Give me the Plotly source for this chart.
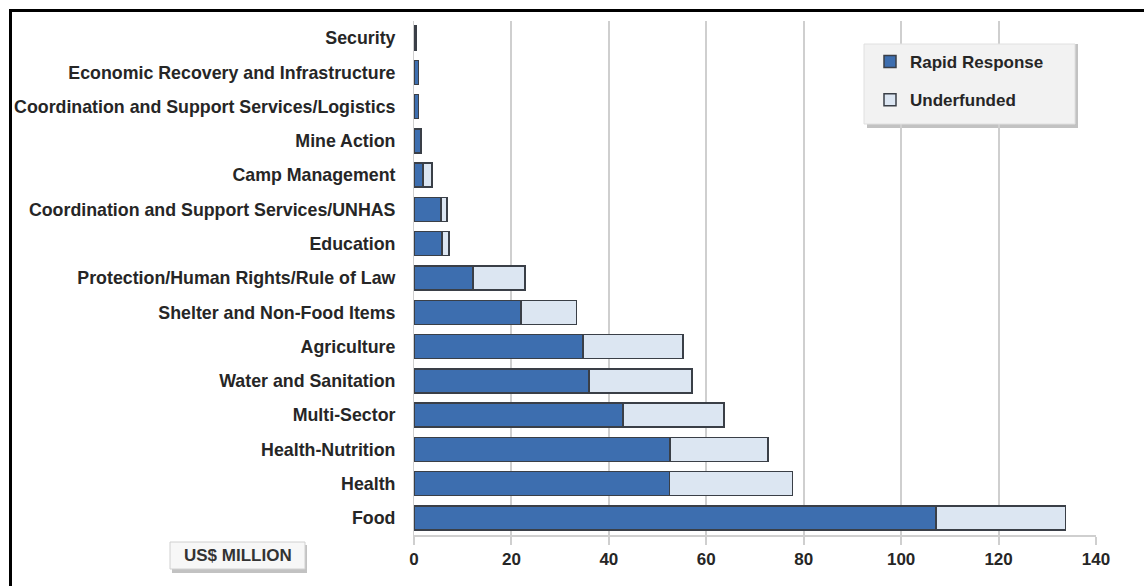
import plotly.graph_objects as go

categories = [
    "Food", "Health", "Health-Nutrition", "Multi-Sector", "Water and Sanitation",
    "Agriculture", "Shelter and Non-Food Items", "Protection/Human Rights/Rule of Law",
    "Education", "Coordination and Support Services/UNHAS", "Camp Management",
    "Mine Action", "Coordination and Support Services/Logistics",
    "Economic Recovery and Infrastructure", "Security",
]
rapid_response = [107.2, 52.4, 52.6, 42.9, 35.9, 34.7, 22.0, 12.1, 5.7, 5.5, 1.8, 1.4, 0.9, 0.9, 0.4]
underfunded = [26.5, 25.3, 20.1, 20.7, 21.2, 20.5, 11.4, 10.7, 1.5, 1.3, 1.9, 0.0, 0.0, 0.0, 0.0]
x_ticks = [0, 20, 40, 60, 80, 100, 120, 140]

FONT = "Liberation Sans, Arial, sans-serif"
TXT = "#262626"

W, H = 1144, 586
L, R, T, B = 414, 48, 21, 51
pw, ph = W - L - R, H - T - B


def px(x):
    return (x - L) / pw


def py(y):
    return (H - B - y) / ph


fig = go.Figure()
fig.add_trace(go.Bar(
    y=categories, x=rapid_response, orientation="h", name="Rapid Response",
    marker=dict(color="#3d6eaf", line=dict(color="#3a3f47", width=1.5)),
    legendgroup="a",
))
fig.add_trace(go.Bar(
    y=categories, x=underfunded, orientation="h", name="Underfunded",
    marker=dict(color="#dce6f2", line=dict(color="#3a3f47", width=1.5)),
    legendgroup="b",
))

shapes = [
    # legend shadow + box
    dict(type="rect", xref="paper", yref="paper", x0=px(867), x1=px(1078), y0=py(44), y1=py(128),
         fillcolor="#9a9a9a", line=dict(width=0), layer="below", opacity=0.6),
    dict(type="rect", xref="paper", yref="paper", x0=px(864), x1=px(1075), y0=py(44), y1=py(124),
         fillcolor="#f2f2f2", line=dict(color="#e0e0e0", width=1), layer="above"),
    # unit box shadow + box
    dict(type="rect", xref="paper", yref="paper", x0=px(172), x1=px(307), y0=py(545), y1=py(573),
         fillcolor="#9a9a9a", line=dict(width=0), opacity=0.6),
    dict(type="rect", xref="paper", yref="paper", x0=px(170), x1=px(305), y0=py(542), y1=py(569),
         fillcolor="#f7f7f7", line=dict(color="#d0d0d0", width=1)),
    # outer frame (top and left edges only visible)
    dict(type="line", xref="paper", yref="paper", x0=px(9), x1=px(1144), y0=py(10.5), y1=py(10.5),
         line=dict(color="#000000", width=3)),
    dict(type="line", xref="paper", yref="paper", x0=px(10.5), x1=px(10.5), y0=py(9), y1=py(586),
         line=dict(color="#000000", width=3)),
]

fig.update_layout(
    width=W, height=H,
    margin=dict(l=L, r=R, t=T, b=B),
    barmode="stack", bargap=0.3,
    plot_bgcolor="white", paper_bgcolor="white",
    font=dict(family=FONT, color=TXT),
    showlegend=True,
    legend=dict(
        x=px(870), y=py(44), xanchor="left", yanchor="top",
        bgcolor="rgba(0,0,0,0)", borderwidth=0,
        font=dict(family=FONT, size=17, color=TXT, weight="bold"),
        traceorder="grouped", tracegroupgap=13, itemwidth=30,
    ),
    xaxis=dict(
        range=[0, 140], tickvals=x_ticks, ticktext=[str(v) for v in x_ticks],
        showgrid=True, gridcolor="#cfcfcf", gridwidth=2,
        showline=True, linecolor="#cfcfcf", linewidth=2,
        ticks="outside", ticklen=8, tickcolor="#cfcfcf", tickwidth=2,
        tickfont=dict(family=FONT, size=17, color=TXT, weight="bold"),
        zeroline=False, fixedrange=True,
    ),
    yaxis=dict(
        categoryorder="array", categoryarray=categories,
        showgrid=False, showline=True, linecolor="#cfcfcf", linewidth=1,
        ticks="", ticklabelstandoff=14,
        tickfont=dict(family=FONT, size=17.8, color=TXT, weight="bold"),
        fixedrange=True,
    ),
    shapes=shapes,
    annotations=[
        dict(text="US$ MILLION", xref="paper", yref="paper", x=px(237.5), y=py(555.5),
             xanchor="center", yanchor="middle", showarrow=False,
             font=dict(family=FONT, size=17, color="#333333", weight="bold")),
    ],
)

fig.write_html("out.html")
